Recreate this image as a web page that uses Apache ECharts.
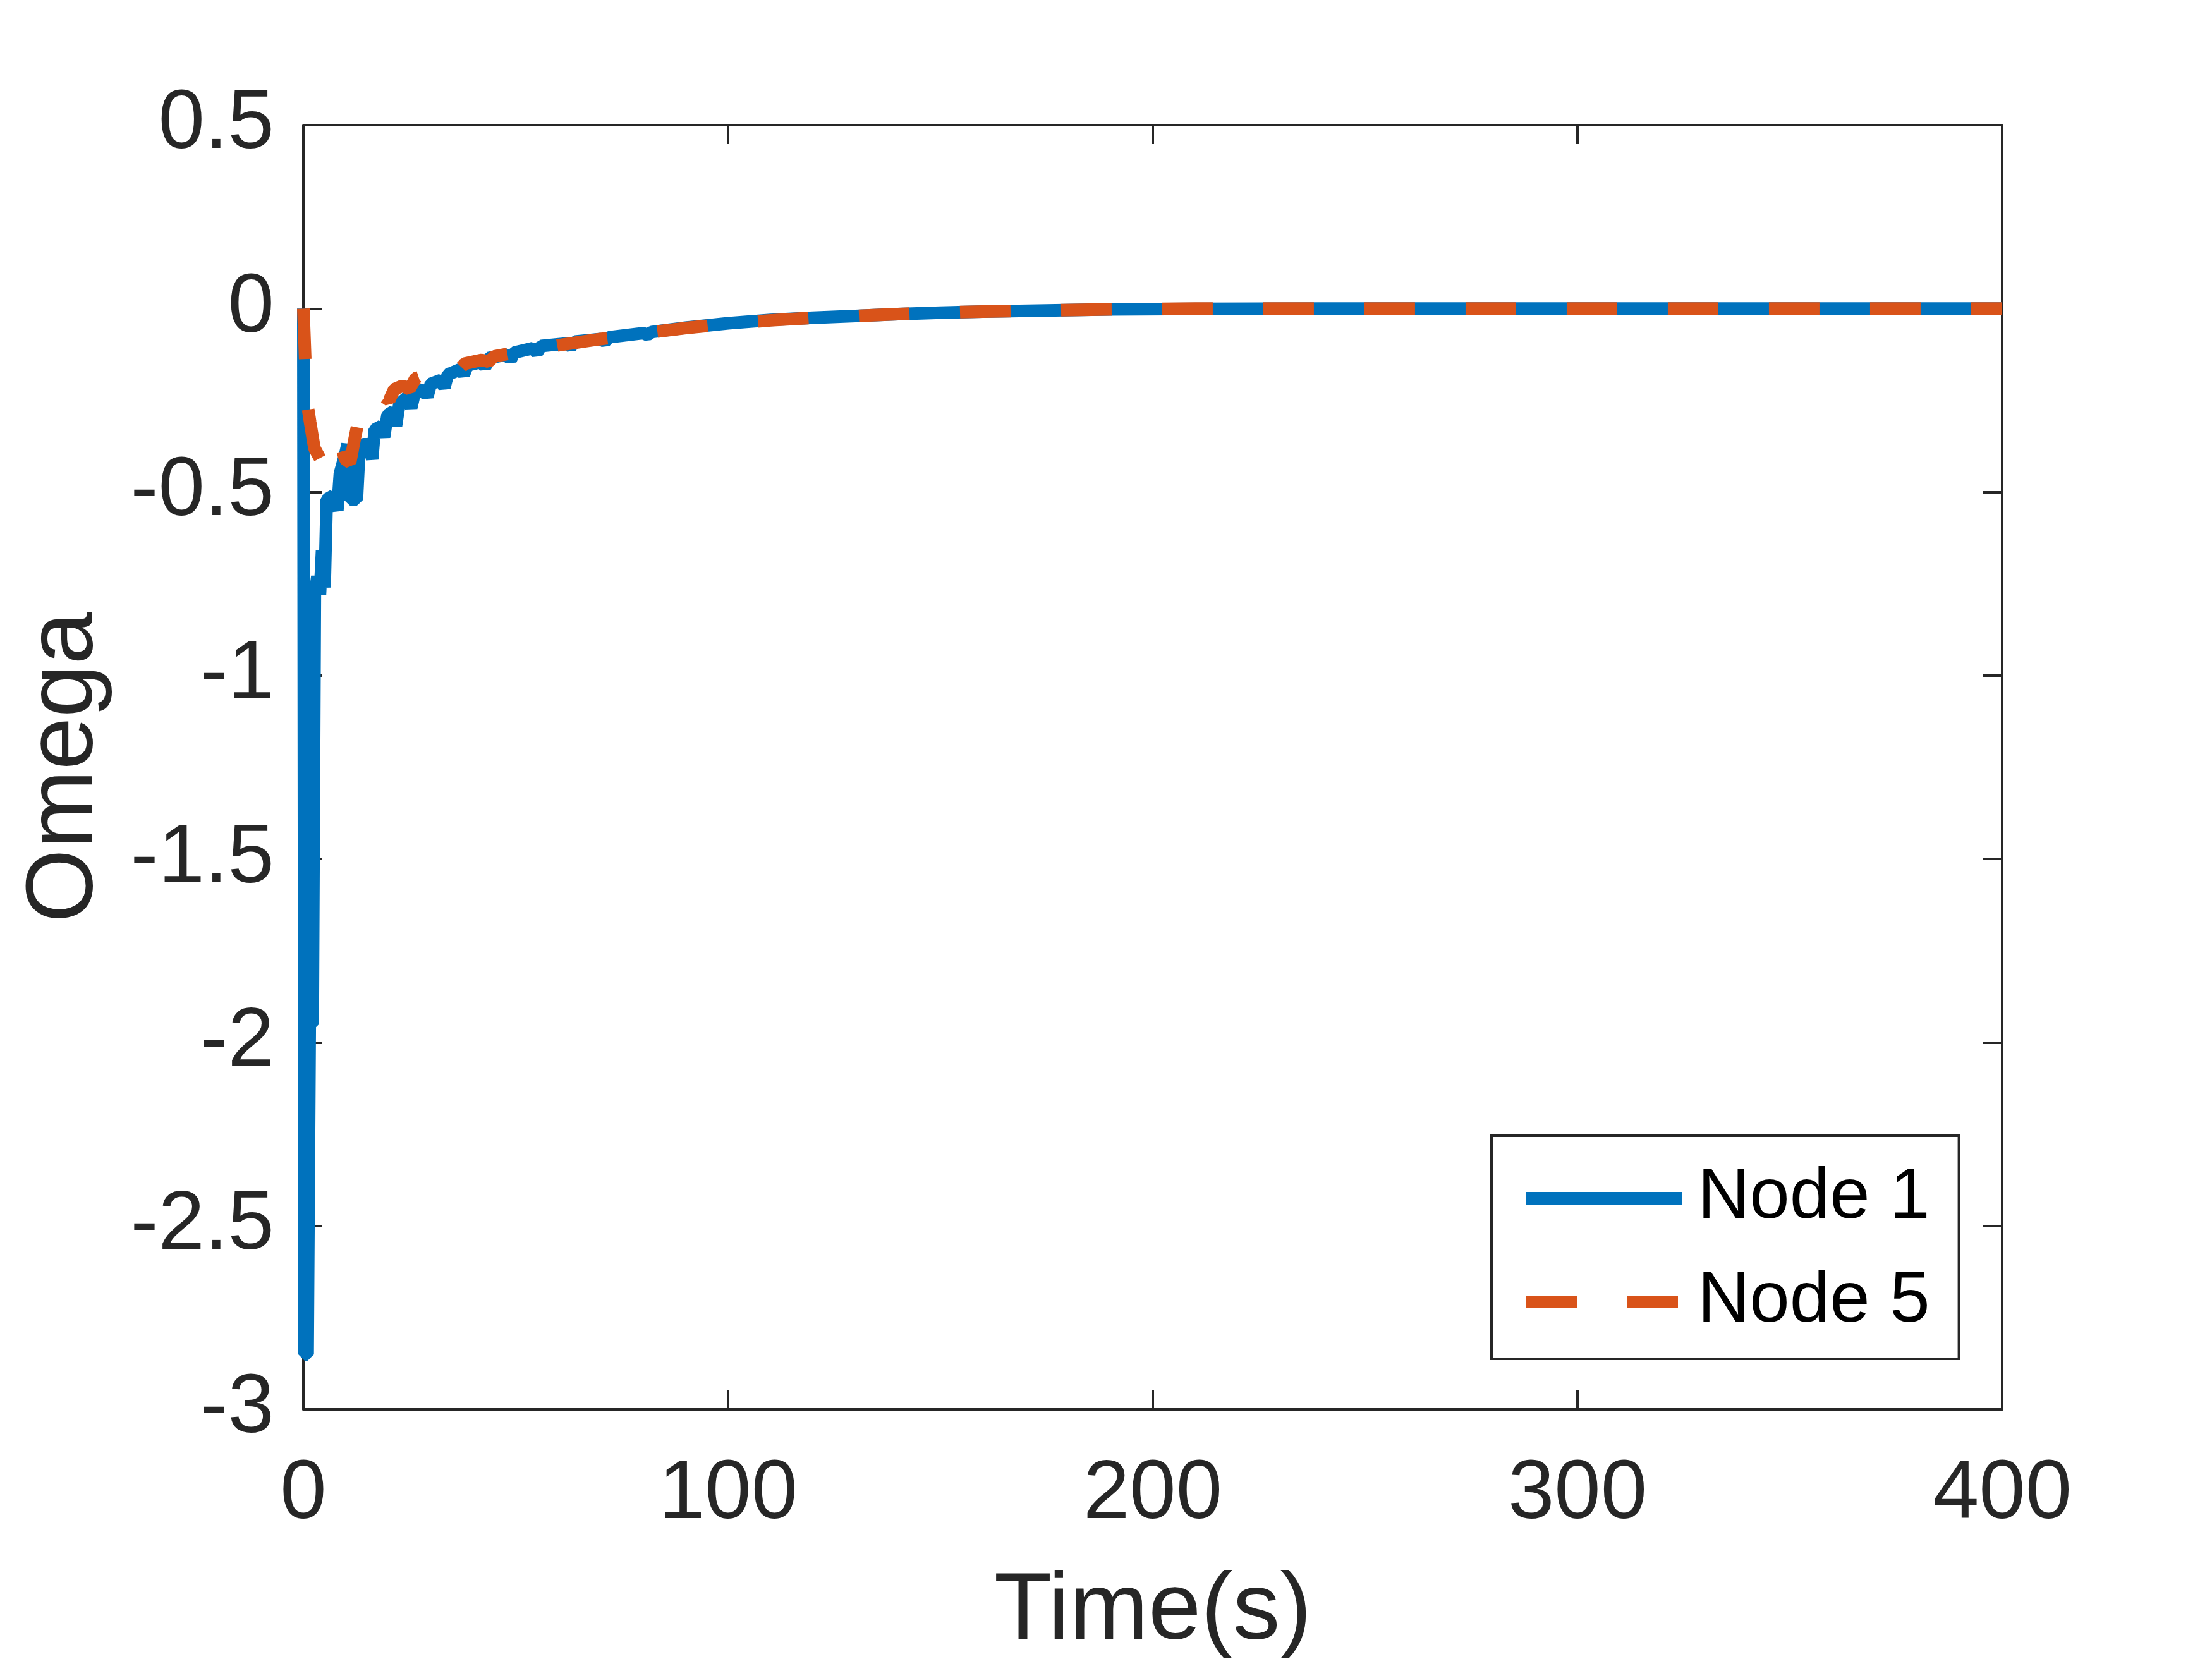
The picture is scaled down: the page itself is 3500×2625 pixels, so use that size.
<!DOCTYPE html>
<html>

<head>
    <meta charset="utf-8" />
    <title>Omega</title>
    <script src="https://cdn.jsdelivr.net/npm/echarts@6.0.0/dist/echarts.min.js"></script>
</head>

<body style="margin:0;background:#fff;">
    <style>
        #main {
            width: 3500px;
            height: 2625px;
        }
    </style>
    <div id="main"></div>
    <script type="text/javascript">
        // Node 1 (solid blue)
        var node1Time = [0, 0.3, 1.0, 1.5, 2.2, 2.7, 3.3, 3.9, 4.4, 5.0, 5.5, 7.0, 8.0, 8.6, 9.8, 10.4,
            11.0, 12.6, 13.2, 14.0, 15.4, 16.2, 16.8, 18.4, 19.0, 19.8, 21.2, 21.8, 22.6, 24.6, 25.4,
            26.2, 28.4, 29.2, 30.0, 32.4, 33.2, 34.0, 37.0, 37.8, 38.6, 42.0, 42.8, 43.6, 48.0, 48.8,
            49.6, 54, 55, 56, 62, 63, 64, 70, 71, 72, 80, 81, 82, 90, 100, 110, 120, 130, 140, 150,
            160, 175, 190, 210, 240, 400];
        var node1Omega = [0, -2.85, -2.85, -1.95, -1.95, -0.78, -0.73, -0.78, -0.66, -0.76, -0.52, -0.51, -0.55, -0.45, -0.40, -0.37,
            -0.52, -0.52, -0.38, -0.37, -0.37, -0.41, -0.33, -0.32, -0.35, -0.29, -0.28, -0.32, -0.26, -0.24, -0.27,
            -0.23, -0.22, -0.24, -0.205, -0.195, -0.215, -0.18, -0.165, -0.18, -0.155, -0.145, -0.16, -0.135, -0.125, -0.14,
            -0.12, -0.108, -0.12, -0.102, -0.095, -0.104, -0.09, -0.083, -0.09, -0.078, -0.067, -0.072, -0.064, -0.052, -0.04, -0.031, -0.025, -0.02, -0.015, -0.011,
            -0.008, -0.005, -0.002, -0.0008, 0, 0];

        // Node 5 (dashed orange)
        var node5Time = [0, 0.8, 1.6, 2.6, 4, 5.2, 6.4, 7.6, 8.6, 9.8, 11, 12, 13.2, 15, 16.4, 17.4,
            19, 20.2, 21.4, 23.4, 25, 26.4, 29, 30.4, 32, 35, 36.4, 38, 42, 43.6, 45, 50, 55, 60,
            70, 80, 90, 100, 110, 120, 130, 140, 150, 160, 175, 190, 210, 400];
        var node5Omega = [0, -0.25, -0.31, -0.38, -0.41, -0.38, -0.35, -0.37, -0.36, -0.41, -0.42, -0.36, -0.29, -0.28, -0.29, -0.26,
            -0.24, -0.25, -0.22, -0.21, -0.22, -0.19, -0.18, -0.19, -0.17, -0.16, -0.17, -0.15, -0.14, -0.145, -0.13, -0.12, -0.11, -0.10,
            -0.083, -0.067, -0.053, -0.041, -0.032, -0.025, -0.02, -0.015, -0.011, -0.008, -0.005, -0.002, 0, 0];

        var seriesNames = ['Node 1', 'Node 5'];

        function pairs(xs, ys) {
            return xs.map(function (x, i) {
                return [x, ys[i]];
            });
        }

        var axisColor = '#262626';
        var font = 'Liberation Sans, Arial, sans-serif';
        var boxLine = { show: true, onZero: false, lineStyle: { color: axisColor, width: 4 } };
        var boxTick = { show: true, inside: true, length: 30, lineStyle: { color: axisColor, width: 4 } };

        var myChart = echarts.init(document.getElementById('main'));
        var option = {
            animation: false,
            backgroundColor: '#fff',
            grid: {
                left: 480,
                right: 332,
                top: 198,
                bottom: 395,
                outerBoundsMode: 'none'
            },
            legend: {
                data: seriesNames,
                orient: 'vertical',
                left: 2360,
                top: 1797,
                padding: [29, 46, 20, 45],
                itemWidth: 247,
                itemHeight: 40,
                itemGap: 24,
                borderColor: axisColor,
                borderWidth: 4,
                backgroundColor: '#fff',
                itemStyle: { opacity: 0, borderWidth: 0 },
                lineStyle: { width: 20, cap: 'butt' },
                textStyle: {
                    color: '#000',
                    fontFamily: font,
                    fontSize: 114,
                    lineHeight: 140,
                    padding: [0, 0, 0, 19]
                }
            },
            xAxis: [{
                type: 'value',
                min: 0,
                max: 400,
                interval: 100,
                name: 'Time(s)',
                nameLocation: 'middle',
                nameGap: 247,
                nameTextStyle: { color: axisColor, fontFamily: font, fontSize: 150 },
                axisLine: boxLine,
                axisTick: boxTick,
                splitLine: { show: false },
                axisLabel: { color: axisColor, fontFamily: font, fontSize: 132, margin: 70 }
            }, {
                type: 'value',
                position: 'top',
                min: 0,
                max: 400,
                interval: 100,
                axisLine: boxLine,
                axisTick: boxTick,
                splitLine: { show: false },
                axisLabel: { show: false }
            }],
            yAxis: [{
                type: 'value',
                min: -3,
                max: 0.5,
                interval: 0.5,
                name: 'Omega',
                nameLocation: 'middle',
                nameGap: 300,
                nameTextStyle: { color: axisColor, fontFamily: font, fontSize: 150 },
                axisLine: boxLine,
                axisTick: boxTick,
                splitLine: { show: false },
                axisLabel: { color: axisColor, fontFamily: font, fontSize: 132, margin: 46 }
            }, {
                type: 'value',
                position: 'right',
                min: -3,
                max: 0.5,
                interval: 0.5,
                axisLine: boxLine,
                axisTick: boxTick,
                splitLine: { show: false },
                axisLabel: { show: false }
            }],
            series: [
                {
                    name: seriesNames[0],
                    type: 'line',
                    symbol: 'none',
                    color: '#0072BD',
                    lineStyle: { width: 20, color: '#0072BD', cap: 'butt', join: 'bevel' },
                    data: pairs(node1Time, node1Omega)
                },
                {
                    name: seriesNames[1],
                    type: 'line',
                    symbol: 'none',
                    color: '#D95319',
                    lineStyle: { width: 20, color: '#D95319', type: [80, 80], cap: 'butt', join: 'bevel' },
                    data: pairs(node5Time, node5Omega)
                }
            ]
        };
        myChart.setOption(option);
    </script>
</body>
</html>
